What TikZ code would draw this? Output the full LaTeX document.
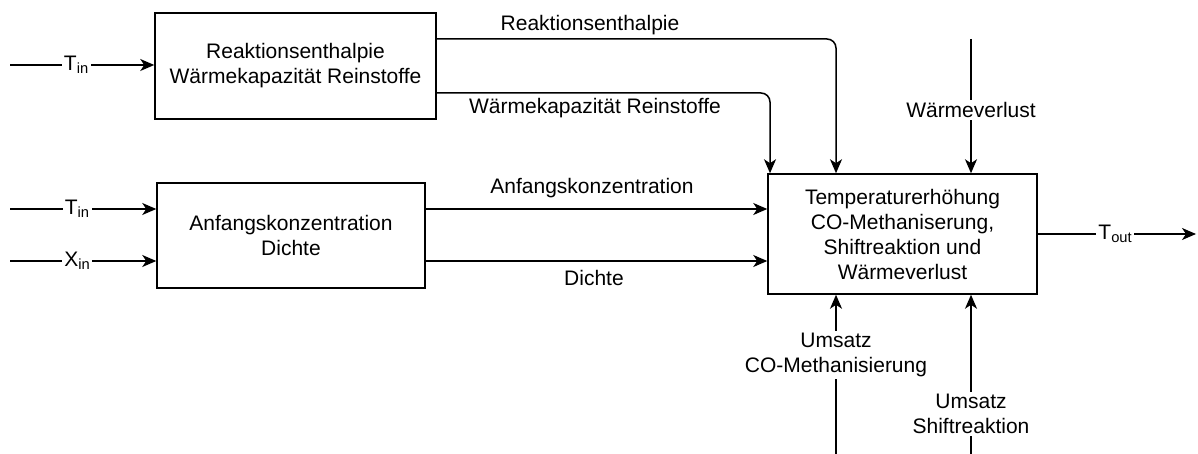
\documentclass[tikz,border=0pt]{standalone}
\usepackage{fontspec}
\setmainfont{Liberation Sans}
\usetikzlibrary{arrows.meta,calc}
\begin{document}
\begin{tikzpicture}[x=1pt,y=-1pt,
  every node/.style={font=\fontsize{21}{25}\selectfont, text=black},
  block/.style={draw, line width=1.5pt, align=center, inner sep=0pt},
  arr/.style={line width=1.5pt, -{Stealth[length=14pt,width=12pt,inset=4pt]}},
  onwire/.style={fill=white, inner sep=2pt},
  lbl/.style={inner sep=0pt}]
\useasboundingbox (0,0) rectangle (1198,454);

% function blocks
\node[block, minimum width=281pt, minimum height=106pt] (b1) at (295.5,66)
  {Reaktionsenthalpie\\Wärmekapazität Reinstoffe};
\node[block, minimum width=268pt, minimum height=105pt] (b2) at (291,235.5)
  {Anfangskonzentration\\Dichte};
\node[block, minimum width=269pt, minimum height=120pt] (b3) at (902.5,234)
  {Temperaturerhöhung\\CO-Methaniserung,\\Shiftreaktion und\\Wärmeverlust};

% free ends of the connectors
\coordinate (in1) at (10,65);
\coordinate (in2) at (10,209);
\coordinate (in3) at (10,261);
\coordinate (y1) at (0,39);
\coordinate (y2) at (0,93);
\coordinate (xr) at (836,0);
\coordinate (xw) at (770,0);
\coordinate (wv) at (971,39);
\coordinate (co) at (836,454);
\coordinate (sh) at (971,454);
\coordinate (out) at (1196,234);

% inputs
\draw[arr] (in1) -- node[onwire, pos=0.46] (l1) {T\textsubscript{in}} (in1 -| b1.west);
\draw[arr] (in2) -- node[onwire, pos=0.46] (l2) {T\textsubscript{in}} (in2 -| b2.west);
\draw[arr] (in3) -- node[onwire, pos=0.46] (l3) {X\textsubscript{in}} (in3 -| b2.west);

% block 1 to block 3
\draw[arr, rounded corners=9pt] (b1.east |- y1) -| (xr |- b3.north);
\draw[arr, rounded corners=9pt] (b1.east |- y2) -| (xw |- b3.north);
\node[lbl] (l4) at (590,25) {Reaktionsenthalpie};
\node[lbl] (l5) at (595,108) {Wärmekapazität Reinstoffe};

% block 2 to block 3
\draw[arr] (b2.east |- in2) -- (b3.west |- in2);
\draw[arr] (b2.east |- in3) -- (b3.west |- in3);
\node[lbl] (l6) at (592,188) {Anfangskonzentration};
\node[lbl] (l7) at (594,278) {Dichte};

% heat loss from above
\draw[arr] (wv) -- node[onwire, pos=0.53] (l8) {Wärmeverlust} (wv |- b3.north);

% conversions from below
\draw[arr] (co) -- node[onwire, align=center, pos=0.62] (l9) {Umsatz\\CO-Methanisierung} (co |- b3.south);
\draw[arr] (sh) -- node[onwire, align=center, pos=0.25] (l10) {Umsatz\\Shiftreaktion} (sh |- b3.south);

% output
\draw[arr] (b3.east) -- node[onwire, pos=0.49] (l11) {T\textsubscript{out}} (out);
\end{tikzpicture}
\end{document}
